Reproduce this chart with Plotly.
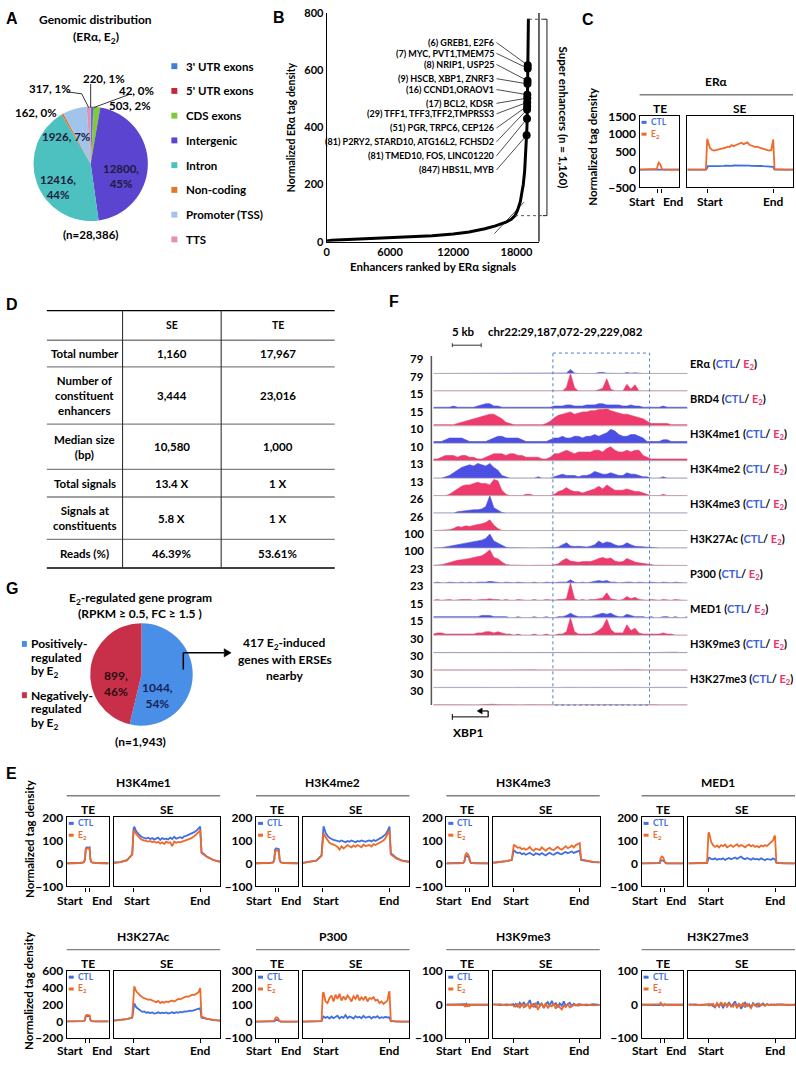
import plotly.graph_objects as go

W, H = 796, 1066
FONT = "Lato, 'Noto Sans', 'DejaVu Sans', sans-serif"
CTL_COLOR = "#3f6fe0"
E2_COLOR = "#ee6a2c"
TRK_CTL = "#4b4fe3"
TRK_E2 = "#ee3a6c"

# ================= Panel A data =================
A_LABELS = ["3' UTR exons", "5' UTR exons", "CDS exons", "Intergenic", "Intron",
            "Non-coding", "Promoter (TSS)", "TTS"]
A_VALUES = [220, 42, 503, 12800, 12416, 162, 1926, 317]
A_PCT = [1, 0, 2, 45, 44, 0, 7, 1]
A_COLORS = ["#3f7fd9", "#c3283c", "#80c93a", "#5a44d0", "#4dc0c0", "#e0782b", "#a0c4ec", "#e490b4"]

# ================= Panel B data =================
B_RANK = [0, 500, 2000, 4000, 6000, 8000, 10000, 12000, 13500, 15000, 16000, 17000, 17500,
          17860, 18100, 18360, 18500, 18640, 18770, 18870, 18940, 18990, 19030, 19060, 19100, 19127]
B_SIGNAL = [2, 5, 8, 11, 14, 17, 21, 27, 34, 45, 55, 68, 78,
            91, 110, 140, 165, 200, 245, 300, 350, 400, 480, 600, 700, 780]
B_DOT_RANK = [19065, 19062, 19045, 19040, 19025, 19020, 19013, 19008, 19003, 18995, 18960]
B_DOT_SIGNAL = [617, 606, 563, 552, 514, 502, 487, 474, 462, 430, 372]
B_GENES = ["(6) GREB1, E2F6", "(7) MYC, PVT1,TMEM75", "(8) NRIP1, USP25", "(9) HSCB, XBP1, ZNRF3",
           "(16) CCND1,ORAOV1", "(17) BCL2, KDSR", "(29) TFF1, TFF3,TFF2,TMPRSS3",
           "(51) PGR, TRPC6, CEP126", "(81) P2RY2, STARD10, ATG16L2, FCHSD2",
           "(81) TMED10, FOS, LINC01220", "(847) HBS1L, MYB"]
B_TANGENT_X = [15900, 18700]
B_TANGENT_Y = [28, 138]
B_CUTOFF = 91
B_MAXSIG = 778

# ================= Profiles (C, E) =================
TE_X = [-5, -3, -1.5, -0.5, -0.2, 0, 0.3, 0.7, 1.0, 1.2, 1.5, 2.5, 4, 6]
SE_X = [-0.30, -0.20, -0.10, -0.02, 0.00, 0.01,
        0.04, 0.07, 0.10, 0.13, 0.16, 0.19, 0.22, 0.25,
        0.28, 0.31, 0.34, 0.37, 0.40, 0.43, 0.46, 0.49,
        0.52, 0.55, 0.58, 0.61, 0.64, 0.67, 0.70, 0.73,
        0.76, 0.79, 0.82, 0.85, 0.88, 0.91, 0.94, 0.97,
        0.99, 1.00, 1.02, 1.10, 1.20, 1.30]

ERA_TE_CTL = [0, 0, 0, 0, 2, 10, 20, 15, 8, 2, 0, 0, 0, 0]
ERA_TE_E2 = [0, 0, 0, 2, 20, 120, 200, 150, 60, 10, 2, 0, 0, 0]
ERA_SE_CTL = [0, 0, 0, 2, 45, 100,
              100, 95, 105, 98, 102, 110, 104, 108, 112, 106, 115, 110, 118, 120, 116, 125,
              122, 118, 120, 114, 116, 110, 112, 105, 108, 100, 104, 98, 95, 100, 92, 96,
              100, 80, 5, 0, 0, 0]
ERA_SE_E2 = [0, 0, 0, 5, 870, 800,
             620, 560, 540, 550, 560, 575, 600, 590, 620, 650, 640, 690, 660, 690, 720, 740,
             760, 720, 750, 770, 700, 690, 660, 640, 650, 620, 600, 590, 570, 560, 540, 550,
             700, 850, 15, 0, 0, 0]

H3K4ME1_TE_CTL = [1, 1, 2, 5, 20, 65, 70, 68, 70, 20, 5, 2, 1, 1]
H3K4ME1_TE_E2 = [1, 1, 2, 5, 18, 62, 66, 64, 66, 18, 5, 2, 1, 1]
H3K4ME1_SE_CTL = [3, 6, 14, 40, 150, 160,
                  140, 128, 120, 114, 112, 108, 112, 106, 110, 104, 108, 112, 102, 110, 106, 108,
                  104, 112, 106, 116, 108, 112, 114, 110, 118, 120, 124, 126, 132, 136, 142, 150,
                  158, 160, 50, 30, 15, 8]
H3K4ME1_SE_E2 = [3, 6, 13, 38, 140, 145,
                 128, 116, 108, 102, 100, 98, 95, 98, 92, 96, 90, 94, 86, 92, 85, 95,
                 90, 92, 75, 95, 90, 94, 92, 95, 98, 100, 102, 108, 112, 118, 126, 135,
                 140, 145, 45, 28, 14, 6]

H3K4ME2_TE_CTL = [1, 1, 2, 5, 18, 60, 66, 64, 62, 18, 5, 2, 1, 1]
H3K4ME2_TE_E2 = [1, 1, 2, 4, 15, 52, 57, 55, 54, 15, 4, 2, 1, 1]
H3K4ME2_SE_CTL = [3, 6, 12, 35, 150, 162,
                  135, 120, 112, 105, 102, 100, 98, 95, 100, 96, 92, 98, 94, 100, 96, 92,
                  98, 95, 100, 96, 94, 98, 100, 96, 102, 98, 105, 108, 112, 118, 126, 140,
                  155, 160, 45, 25, 12, 8]
H3K4ME2_SE_E2 = [3, 6, 12, 32, 125, 132,
                 115, 100, 90, 85, 82, 78, 72, 60, 75, 65, 72, 80, 75, 70, 78, 72,
                 80, 75, 70, 82, 76, 78, 80, 74, 84, 80, 85, 90, 95, 100, 110, 125,
                 140, 145, 40, 22, 10, 6]

H3K4ME3_TE_CTL = [0, 0, 1, 3, 10, 28, 32, 30, 25, 8, 2, 1, 0, 0]
H3K4ME3_TE_E2 = [0, 0, 1, 4, 14, 38, 45, 40, 30, 10, 3, 1, 0, 0]
H3K4ME3_SE_CTL = [3, 6, 10, 15, 55, 58,
                  50, 45, 48, 40, 44, 38, 42, 46, 40, 36, 44, 42, 38, 45, 40, 35,
                  42, 46, 40, 38, 44, 48, 42, 40, 46, 50, 44, 48, 52, 46, 50, 54,
                  55, 56, 15, 10, 6, 5]
H3K4ME3_SE_E2 = [3, 6, 10, 16, 78, 82,
                 75, 68, 70, 62, 66, 60, 64, 72, 60, 55, 65, 62, 58, 70, 62, 55,
                 64, 68, 60, 58, 66, 72, 64, 60, 68, 75, 66, 70, 78, 70, 80, 84,
                 86, 88, 18, 12, 7, 5]

MED1_TE_CTL = [0, 0, 0, 0, 2, 10, 14, 12, 6, 1, 0, 0, 0, 0]
MED1_TE_E2 = [0, 0, 0, 1, 5, 22, 30, 26, 12, 3, 0, 0, 0, 0]
MED1_SE_CTL = [0, 0, 0, 2, 22, 25,
               20, 18, 22, 16, 20, 18, 22, 15, 20, 24, 18, 22, 26, 20, 24, 30,
               22, 18, 24, 20, 16, 22, 18, 20, 16, 22, 18, 14, 20, 18, 16, 22,
               20, 18, 2, 0, 0, 0]
MED1_SE_E2 = [0, 0, 0, 3, 130, 135,
              95, 80, 72, 78, 70, 80, 75, 82, 70, 76, 80, 72, 78, 84, 74, 80,
              76, 70, 78, 82, 74, 80, 72, 76, 70, 78, 74, 80, 76, 84, 90, 100,
              118, 120, 5, 0, 0, 0]

H3K27AC_TE_CTL = [1, 1, 2, 5, 20, 65, 68, 66, 65, 20, 5, 2, 1, 1]
H3K27AC_TE_E2 = [1, 1, 2, 5, 22, 72, 80, 75, 74, 22, 5, 2, 1, 1]
H3K27AC_SE_CTL = [12, 20, 30, 45, 200, 215,
                  170, 150, 130, 115, 120, 105, 110, 100, 108, 95, 100, 110, 98, 105, 100, 108,
                  95, 102, 110, 100, 112, 105, 115, 110, 120, 118, 125, 130, 128, 135, 140, 145,
                  150, 160, 45, 30, 18, 10]
H3K27AC_SE_E2 = [12, 20, 30, 50, 400, 420,
                 360, 330, 310, 290, 280, 270, 260, 265, 250, 240, 230, 245, 220, 235, 225, 240,
                 230, 245, 250, 240, 260, 270, 265, 280, 290, 300, 295, 310, 320, 315, 330, 345,
                 380, 400, 60, 35, 20, 12]

P300_TE_CTL = [0, 0, 0, 0, 1, 6, 10, 8, 4, 1, 0, 0, 0, 0]
P300_TE_E2 = [0, 0, 0, 1, 4, 18, 25, 22, 10, 2, 0, 0, 0, 0]
P300_SE_CTL = [0, 0, 0, 2, 25, 30,
               22, 28, 18, 30, 20, 26, 35, 18, 28, 22, 38, 20, 30, 25, 18, 32,
               24, 28, 20, 34, 22, 26, 30, 18, 28, 24, 32, 20, 26, 22, 28, 24,
               22, 25, 2, 0, 0, 0]
P300_SE_E2 = [0, 0, 0, 3, 170, 175,
              120, 110, 140, 155, 120, 160, 135, 165, 125, 150, 130, 155, 140, 120, 150, 135,
              160, 125, 145, 130, 150, 120, 140, 135, 145, 125, 130, 110, 120, 105, 115, 125,
              170, 180, 5, 0, 0, 0]

H3K9ME3_TE_CTL = [0, 0, 1, 0, 2, -2, 3, -3, 1, 0, 0, 1, 0, 0]
H3K9ME3_TE_E2 = [0, 0, 0, -1, -4, 3, -6, 2, -5, -1, 0, 0, 0, 0]
H3K9ME3_SE_CTL = [2, -1, 1, 0, 2, -3,
                  3, -5, 6, -2, 8, -4, 2, 14, -6, 4, -8, 10, -3, 5, -10, 2,
                  8, -4, 12, -2, 6, -8, 4, -3, 10, -5, 2, 6, -4, 3, -2, 1,
                  2, -1, 1, -2, 2, 0]
H3K9ME3_SE_E2 = [0, 2, -2, 1, -2, -4,
                 -6, 2, -10, 4, -8, -3, 5, -12, 2, -6, 6, -15, -4, 3, -8, 6,
                 -10, -2, -5, 4, -12, 2, -8, -14, -3, -6, 2, -8, -4, -2, 1, -3,
                 -2, 1, -1, 1, -2, 0]

H3K27ME3_TE_CTL = [0, 0, 0, 1, -1, 2, 1, -2, 1, 0, 0, 0, 0, 0]
H3K27ME3_TE_E2 = [0, 0, 1, 0, 2, 6, 3, -2, 2, 1, 0, 0, 0, 0]
H3K27ME3_SE_CTL = [0, 1, -1, 0, 1, -2,
                   2, -4, -8, 3, -6, 6, -10, 4, -3, 8, -5, 2, 10, -6, 4, -12,
                   -3, 6, -4, 2, -8, 5, -2, 3, -5, 1, 4, -2, 2, -1, 1, 0,
                   1, 0, 0, 1, -1, 0]
H3K27ME3_SE_E2 = [1, -1, 0, 1, -1, 2,
                  -2, 3, -6, 5, -4, 8, -2, 6, -8, 4, -3, -6, 5, -10, 2, -4,
                  6, -8, 3, -5, -10, 2, -3, -6, 4, -2, 1, -3, 2, -1, 0, 1,
                  0, -1, 1, 0, -1, 0]

# ================= Panel D data =================
D_HEADER = ["", "SE", "TE"]
D_ROWS = ["Total number", "Number of<br>constituent<br>enhancers", "Median size<br>(bp)",
          "Total signals", "Signals at<br>constituents", "Reads (%)"]
D_SE = ["1,160", "3,444", "10,580", "13.4 X", "5.8 X", "46.39%"]
D_TE = ["17,967", "23,016", "1,000", "1 X", "1 X", "53.61%"]

# ================= Panel F data (64 bins across chr22:29,187,072-29,229,082) =================
F_MARKS = ["ERα", "BRD4", "H3K4me1", "H3K4me2", "H3K4me3", "H3K27Ac", "P300", "MED1", "H3K9me3", "H3K27me3"]
F_MAX = [79, 15, 10, 13, 26, 100, 23, 15, 30, 30]
ERA_CTL_T = [0,0,0,0,0,0,0,0, 0,0,0,0,0,0,0,0, 0,0,0,0,0,0,0,0, 0,0,0,0,0,0,0,0,
             0,2,18,2,0,0,0,0, 0,4,5,1,0,0,0,0, 4,1,3,0,0,0,0,0, 0,0,0,0,0,0,0,0]
ERA_E2_T = [0,0,0,0,0,0,0,0, 0,0,0,0,0,0,0,0, 0,0,0,0,0,0,0,0, 0,0,0,0,0,0,0,0,
            0,16,79,14,0,0,0,0, 0,5,12,55,8,0,0,0, 30,8,28,0,0,0,0,0, 0,0,0,0,0,0,0,0]
BRD4_CTL_T = [1,1,1,1,1,2,1,1, 1,1,1,2,3,4,4,2, 2,1,1,1,1,1,1,1, 1,1,1,1,1,1,2,2,
              2,3,3,2,2,2,3,3, 3,4,4,3,3,3,3,2, 2,3,2,2,1,1,1,1, 1,2,1,1,1,1,1,1]
BRD4_E2_T = [1,1,1,1,1,1,2,3, 4,5,6,7,8,9,10,10, 8,6,3,2,1,1,1,1, 1,1,1,1,2,4,7,9,
             10,11,12,10,11,12,12,13, 13,14,14,15,13,12,11,10, 10,9,8,7,6,4,2,2, 2,2,2,1,1,1,1,1]
ME1_CTL_T = [1,1,1,2,3,3,3,3, 2,1,1,1,1,1,2,3, 4,4,3,3,3,3,2,1, 1,1,1,1,1,2,3,3,
             4,3,3,4,4,3,4,4, 5,4,5,6,8,7,5,4, 4,5,5,4,3,1,1,1, 1,2,2,1,1,1,1,1]
ME1_E2_T = [1,1,2,3,3,3,2,3, 3,2,2,1,1,2,3,4, 4,4,3,4,4,3,3,2, 2,2,2,1,1,2,4,4,
            5,6,5,4,5,5,5,5, 6,6,5,7,8,6,5,5, 6,5,6,6,3,2,1,1, 1,1,1,1,1,1,1,1]
ME2_CTL_T = [0,0,0,1,2,4,6,8, 9,10,9,11,10,9,11,8, 6,2,1,0,0,0,0,0, 0,0,1,0,0,0,1,2,
             3,2,2,2,1,2,2,3, 5,4,3,3,4,3,2,2, 4,3,3,2,1,1,0,0, 0,1,0,0,0,0,0,0]
ME2_E2_T = [0,0,0,0,1,3,5,7, 8,8,9,10,9,9,8,12, 11,4,1,0,0,0,0,1, 1,0,0,0,0,0,1,3,
            4,6,4,3,3,2,3,4, 5,7,5,8,6,4,4,4, 5,4,3,3,2,1,0,0, 0,1,0,0,0,0,0,0]
ME3_CTL_T = [0,0,0,0,0,0,2,3, 4,4,5,5,6,10,26,8, 4,1,0,0,0,0,0,0, 0,0,0,0,0,0,0,0,
             0,0,0,0,0,0,0,0, 0,0,0,1,0,0,0,0, 0,0,0,0,0,0,0,0, 0,0,0,0,0,0,0,0]
ME3_E2_T = [0,0,0,0,1,3,6,5, 7,6,8,9,10,12,16,8, 3,0,0,0,0,0,0,0, 0,0,0,0,0,0,0,0,
            0,0,0,0,0,0,0,0, 0,0,0,1,0,0,0,0, 0,0,0,0,0,0,0,0, 0,0,0,0,0,0,0,0]
K27AC_CTL_T = [0,0,2,6,10,14,18,22, 25,30,35,40,45,55,80,40, 28,12,4,1,0,0,0,0, 0,0,0,0,0,0,2,6,
               20,30,12,8,10,8,6,10, 18,40,26,35,30,18,12,15, 30,18,10,8,6,3,1,0, 0,0,1,0,0,0,0,0]
K27AC_E2_T = [1,2,4,10,18,25,30,32, 38,40,45,50,55,70,90,45, 38,20,6,2,1,0,0,0, 0,1,0,0,0,1,4,10,
              28,40,25,20,18,22,20,22, 30,40,45,38,42,25,20,22, 40,30,20,15,12,6,2,1, 1,0,2,1,0,0,0,0]
P300_CTL_T = [0,1,0,0,1,0,0,1, 0,1,0,1,1,1,2,1, 1,0,1,0,0,1,0,0, 0,1,0,0,1,0,0,1,
              1,1,4,1,0,1,0,1, 1,3,2,3,1,1,0,1, 1,1,0,1,0,0,1,0, 0,1,0,0,1,0,0,0]
P300_E2_T = [0,1,0,1,1,0,1,1, 1,1,0,1,1,1,2,1, 1,0,1,0,0,1,0,0, 0,1,0,0,1,0,0,1,
             1,2,23,2,0,1,0,1, 1,2,3,10,2,1,0,1, 5,2,4,1,0,0,1,0, 0,1,0,0,1,0,0,0]
MED1_CTL_T = [1,1,1,1,1,1,1,1, 1,1,1,1,2,2,2,1, 1,1,1,0,0,1,0,0, 0,1,0,0,1,0,0,1,
              1,2,4,2,1,1,1,1, 2,3,4,3,4,2,1,1, 3,2,1,1,1,0,1,0, 0,1,1,0,1,0,0,1]
MED1_E2_T = [1,2,2,1,1,1,1,1, 1,1,1,2,2,3,3,2, 3,2,1,1,0,1,0,0, 0,1,0,0,1,0,0,1,
             1,3,15,3,1,1,1,1, 2,4,7,14,5,2,2,2, 9,4,6,2,1,1,1,1, 1,2,1,1,0,0,0,0]
K9_CTL_T = [0.3,0.5,0.3,0.4,0.3,0.5,0.4,0.3, 0.4,0.3,0.5,0.3,0.4,0.3,0.5,0.4,
            0.3,0.4,0.3,0.5,0.3,0.4,0.3,0.3, 0.5,0.3,0.4,0.3,0.3,0.5,0.4,0.3,
            0.4,0.3,0.5,0.4,0.3,0.3,0.4,0.5, 0.3,0.4,0.3,0.5,0.4,0.3,0.3,0.4,
            0.5,0.3,0.4,0.3,0.3,0.4,0.3,0.5, 0.3,0.4,0.3,0.5,0.8,0.4,0.3,0.4]
K9_E2_T = [0.4,0.3,0.3,0.5,0.3,0.4,0.3,0.3, 0.5,0.3,0.4,0.3,0.3,0.4,0.5,0.3,
           0.4,0.3,0.3,0.5,0.4,0.3,0.3,0.4, 0.3,0.5,0.3,0.4,0.3,0.3,0.4,0.5,
           0.3,0.4,0.3,0.3,0.5,0.4,0.3,0.3, 0.4,0.3,0.5,0.3,0.4,0.3,0.3,0.5,
           0.3,0.4,0.3,0.5,0.3,0.3,0.4,0.3, 0.5,0.3,0.4,0.3,0.3,0.4,0.3,0.3]
K27_CTL_T = [0.3,0.4,0.3,0.5,0.3,0.3,0.4,0.3, 0.5,0.3,0.4,0.3,0.3,0.4,0.3,0.5,
             0.3,0.4,0.5,0.3,0.3,0.4,0.3,0.3, 0.4,0.3,0.5,0.3,0.4,0.3,0.3,0.4,
             0.3,0.5,0.3,0.4,0.3,0.3,0.5,0.3, 0.4,0.3,0.3,0.4,0.5,0.3,0.4,0.3,
             0.3,0.5,0.3,0.4,0.3,0.3,0.4,0.3, 0.4,0.3,0.5,0.3,0.3,0.4,0.3,0.4]
K27_E2_T = [0.4,0.3,0.5,0.3,0.3,0.4,0.3,0.4, 0.3,0.5,0.4,0.3,0.6,1.2,1.6,1.4,
            0.5,0.3,0.4,0.3,0.3,0.5,0.3,0.4, 0.3,0.3,0.4,0.5,0.3,0.4,0.3,0.3,
            0.5,0.3,0.4,0.3,0.3,0.4,0.5,0.3, 0.3,0.4,0.3,0.5,0.3,0.4,0.3,0.3,
            0.4,0.3,0.5,0.3,0.4,0.3,0.3,0.5, 0.3,0.4,0.3,0.3,0.5,0.3,0.4,0.3]
F_TRACKS = [ERA_CTL_T, ERA_E2_T, BRD4_CTL_T, BRD4_E2_T, ME1_CTL_T, ME1_E2_T, ME2_CTL_T, ME2_E2_T,
            ME3_CTL_T, ME3_E2_T, K27AC_CTL_T, K27AC_E2_T, P300_CTL_T, P300_E2_T, MED1_CTL_T, MED1_E2_T,
            K9_CTL_T, K9_E2_T, K27_CTL_T, K27_E2_T]
F_BINS = list(range(64))

# ================= Panel G data =================
G_LABELS = ["Positively-regulated by E2", "Negatively-regulated by E2"]
G_VALUES = [1044, 899]
G_PCT = [54, 46]
G_COLORS = ["#4a8fe7", "#c8304a"]
G_INDUCED = 417

for arr in [ERA_SE_CTL, ERA_SE_E2, H3K4ME1_SE_CTL, H3K4ME1_SE_E2, H3K4ME2_SE_CTL, H3K4ME2_SE_E2,
            H3K4ME3_SE_CTL, H3K4ME3_SE_E2, MED1_SE_CTL, MED1_SE_E2, H3K27AC_SE_CTL, H3K27AC_SE_E2,
            P300_SE_CTL, P300_SE_E2, H3K9ME3_SE_CTL, H3K9ME3_SE_E2, H3K27ME3_SE_CTL, H3K27ME3_SE_E2]:
    assert len(arr) == len(SE_X), len(arr)
for arr in F_TRACKS:
    assert len(arr) == 64, len(arr)


# ================= helpers =================
def PX(x):
    return x / W


def PY(y):
    return 1 - y / H


fig = go.Figure()
lay = dict(width=W, height=H, margin=dict(l=0, r=0, t=0, b=0), paper_bgcolor="white",
           plot_bgcolor="rgba(0,0,0,0)", showlegend=False,
           font=dict(family=FONT, size=11, color="black", weight="bold"))
shapes = []
anns = []


def text(x, y, s, size=11, color="black", xanchor="center", yanchor="middle", angle=0, family=None):
    f = dict(size=size, color=color, weight="bold")
    if family:
        f["family"] = family
    anns.append(dict(x=PX(x), y=PY(y), xref="paper", yref="paper", text=s, showarrow=False,
                     font=f, xanchor=xanchor, yanchor=yanchor, textangle=angle))


def line(x0, y0, x1, y1, color="black", width=1.0, dash="solid"):
    shapes.append(dict(type="line", xref="paper", yref="paper", x0=PX(x0), y0=PY(y0), x1=PX(x1), y1=PY(y1),
                       line=dict(color=color, width=width, dash=dash)))


def rect(x0, y0, x1, y1, fill, linecolor=None, width=0, dash="solid"):
    shapes.append(dict(type="rect", xref="paper", yref="paper", x0=PX(x0), y0=PY(y0), x1=PX(x1), y1=PY(y1),
                       fillcolor=fill, line=dict(color=linecolor or fill, width=width, dash=dash)))


def arrow(x0, y0, x1, y1, width=1.2, head=5):
    # horizontal line from (x0,y0) to (x1,y1) with a filled triangular head at (x1,y1)
    d = head if x1 > x0 else -head
    line(x0, y0, x1 - d, y1, width=width)
    path = (f"M {PX(x1)} {PY(y1)} L {PX(x1 - d)} {PY(y1 - head * 0.6)} "
            f"L {PX(x1 - d)} {PY(y1 + head * 0.6)} Z")
    shapes.append(dict(type="path", xref="paper", yref="paper", path=path, fillcolor="black",
                       line=dict(color="black", width=0.5)))


naxes = [0]


def add_axes(x0, x1, y0, y1, xa, ya):
    naxes[0] += 1
    n = naxes[0]
    s = "" if n == 1 else str(n)
    lay["xaxis" + s] = dict(domain=[PX(x0), PX(x1)], anchor="y" + s, **xa)
    lay["yaxis" + s] = dict(domain=[PY(y1), PY(y0)], anchor="x" + s, **ya)
    return "x" + s, "y" + s


LETTER_FONT = "'Liberation Sans', Arial, sans-serif"
for L, x, y in [("A", 9, 11), ("B", 277, 10), ("C", 587, 12), ("D", 9, 301), ("E", 9, 776), ("F", 392, 298), ("G", 9, 589)]:
    text(x, y, L, size=16, family=LETTER_FONT)

# ================= Panel A =================
text(93, 12, "Genomic distribution", size=12)
text(93, 30, "(ERα, E<sub>2</sub>)", size=12)
fig.add_trace(go.Pie(labels=A_LABELS, values=A_VALUES, sort=False, direction="clockwise", rotation=0,
                     marker=dict(colors=A_COLORS, line=dict(width=0)), textinfo="none",
                     domain=dict(x=[PX(30), PX(146)], y=[PY(216), PY(100)]), hoverinfo="skip"))
A_TEXT_POS = {3: (118, 170, True), 4: (55, 182, True), 6: (63, 130, False),
              0: (101, 71, False), 1: (134, 84, False), 2: (127, 99, False), 7: (47, 82, False), 5: (33, 106, False)}
for i, (x, y, two) in A_TEXT_POS.items():
    sep = ",<br>" if two else ", "
    col = "#1c1c3c" if i in (3, 4, 6) else "black"
    text(x, y, f"{A_VALUES[i]}{sep}{A_PCT[i]}%", size=11.5, color=col)
line(88, 77, 88, 101, width=0.8)
line(126, 88, 91, 101, width=0.8)
line(64, 85, 79, 87, width=0.8)
line(79, 87, 86, 101, width=0.8)
text(88, 230, "(n=28,386)", size=11.5)
for i, lab in enumerate(A_LABELS):
    y = 59 + i * 25.1
    rect(169, y - 3, 175, y + 3, A_COLORS[i])
    text(182, y, lab, size=11.5, xanchor="left")

# ================= Panel B =================
bx, by = add_axes(325, 538, 5, 237,
                  dict(range=[0, 20130], tickvals=[0, 6000, 12000, 18000], tickformat="d", showline=True,
                       linecolor="black", linewidth=1.2, showgrid=False, zeroline=False, ticks="",
                       tickfont=dict(size=11)),
                  dict(range=[0, 800], tick0=0, dtick=200, showline=True, linecolor="black", linewidth=1.2,
                       showgrid=False, zeroline=False, ticks="", tickfont=dict(size=11)))
fig.add_trace(go.Scatter(x=B_TANGENT_X, y=B_TANGENT_Y, xaxis=bx, yaxis=by, mode="lines",
                         line=dict(color="black", width=0.7), hoverinfo="skip"))
fig.add_trace(go.Scatter(x=B_RANK, y=B_SIGNAL, xaxis=bx, yaxis=by, mode="lines",
                         line=dict(color="black", width=3), hoverinfo="skip"))
fig.add_trace(go.Scatter(x=B_DOT_RANK, y=B_DOT_SIGNAL, xaxis=bx, yaxis=by, mode="markers",
                         marker=dict(color="black", size=8), hoverinfo="skip"))
shapes.append(dict(type="line", xref="paper", yref=by, x0=PX(538), x1=PX(538), y0=0, y1=800,
                   line=dict(color="black", width=1.2)))
shapes.append(dict(type="line", xref="paper", yref=by, x0=PX(514), x1=PX(542), y0=B_CUTOFF, y1=B_CUTOFF,
                   line=dict(color="#444", width=0.9, dash="dot")))
shapes.append(dict(type="line", xref="paper", yref=by, x0=PX(528), x1=PX(542), y0=B_MAXSIG, y1=B_MAXSIG,
                   line=dict(color="#444", width=0.9, dash="dot")))
shapes.append(dict(type="line", xref="paper", yref=by, x0=PX(546), x1=PX(546), y0=B_CUTOFF, y1=B_MAXSIG,
                   line=dict(color="black", width=0.9)))
for yv in (B_CUTOFF, B_MAXSIG):
    shapes.append(dict(type="line", xref="paper", yref=by, x0=PX(542), x1=PX(546), y0=yv, y1=yv,
                       line=dict(color="black", width=0.9)))
text(563, 111, "Super enhancers (n = 1,160)", size=11.5, angle=90)
text(289, 121, "Normalized ERα tag density", size=10.5, angle=-90)
text(432, 262, "Enhancers ranked by ERα signals", size=11.5)
B_LABEL_PY = [35, 46, 57.3, 71.7, 82.7, 96.7, 107.3, 121.7, 135.7, 150, 164.3]
for g, dx, dy, lp in zip(B_GENES, B_DOT_RANK, B_DOT_SIGNAL, B_LABEL_PY):
    anns.append(dict(x=dx, y=dy, xref=bx, yref=by, ax=16100, ay=(237 - lp) * 800 / 232, axref=bx, ayref=by,
                     text=g, showarrow=True, arrowhead=0, arrowwidth=0.7, arrowcolor="black",
                     xanchor="right", yanchor="middle", font=dict(size=9, weight="bold"), standoff=3))

# ================= Profile panels (C, E) =================
TE_RANGE = [-5, 6]
SE_RANGE = [-0.3, 1.3]


def profile_panel(te_left, top, bottom, title, yr, dt, te_ctl, te_e2, se_ctl, se_e2,
                  te_w=42, gap=5, se_w=107, xlab_dy=14):
    te_right = te_left + te_w
    se_left = te_right + gap
    se_right = se_left + se_w
    frame = dict(showline=True, mirror=True, linecolor="black", linewidth=1.3, showgrid=False, zeroline=False)
    xa = dict(tickvals=[0, 1], ticks="outside", ticklen=4, tickwidth=1, tickcolor="black",
              showticklabels=False, **frame)
    ya = dict(range=yr, tick0=0, dtick=dt, ticks="", **frame)
    xt, yt = add_axes(te_left, te_right, top, bottom, dict(range=TE_RANGE, **xa),
                      dict(showticklabels=True, tickfont=dict(size=12), **ya))
    xs, ys = add_axes(se_left, se_right, top, bottom, dict(range=SE_RANGE, **xa),
                      dict(showticklabels=False, **ya))
    for xr, yr_, xv, c, e in [(xt, yt, TE_X, te_ctl, te_e2), (xs, ys, SE_X, se_ctl, se_e2)]:
        fig.add_trace(go.Scatter(x=xv, y=c, xaxis=xr, yaxis=yr_, mode="lines",
                                 line=dict(color=CTL_COLOR, width=1.8), hoverinfo="skip"))
        fig.add_trace(go.Scatter(x=xv, y=e, xaxis=xr, yaxis=yr_, mode="lines",
                                 line=dict(color=E2_COLOR, width=1.8), hoverinfo="skip"))
    text((te_left + se_right) / 2, top - 35, title, size=12)
    line(te_left, top - 22, se_right, top - 22, color="#808080", width=1.3)
    text((te_left + te_right) / 2, top - 8, "TE", size=12)
    text((se_left + se_right) / 2, top - 8, "SE", size=12)
    yl = PY(bottom + xlab_dy)
    for xr, xv, s, xanc, sh in [(xt, 0, "Start", "right", -1), (xt, 1, "End", "left", 0),
                                (xs, 0, "Start", "center", 3), (xs, 1, "End", "center", 0)]:
        anns.append(dict(xref=xr, x=xv, yref="paper", y=yl, text=s, showarrow=False, xanchor=xanc,
                         xshift=sh, yanchor="middle", font=dict(size=12, weight="bold")))
    line(te_left + 2, top + 6, te_left + 7, top + 6, color=CTL_COLOR, width=3)
    text(te_left + 9, top + 6, "CTL", size=8.5, color=CTL_COLOR, xanchor="left")
    line(te_left + 2, top + 18, te_left + 7, top + 18, color=E2_COLOR, width=3)
    text(te_left + 9, top + 18, "E<sub>2</sub>", size=8.5, color=E2_COLOR, xanchor="left")


# Panel C
profile_panel(639, 110, 182, "ERα", [-500, 1500], 500, ERA_TE_CTL, ERA_TE_E2, ERA_SE_CTL, ERA_SE_E2,
              te_w=40, gap=8, se_w=106)
text(591, 140, "Normalized tag density", size=11.5, angle=-90)

# Panel E
E_LEFTS = [64, 254, 445, 641]
row1 = [("H3K4me1", [-100, 200], 100, H3K4ME1_TE_CTL, H3K4ME1_TE_E2, H3K4ME1_SE_CTL, H3K4ME1_SE_E2),
        ("H3K4me2", [-100, 200], 100, H3K4ME2_TE_CTL, H3K4ME2_TE_E2, H3K4ME2_SE_CTL, H3K4ME2_SE_E2),
        ("H3K4me3", [-100, 200], 100, H3K4ME3_TE_CTL, H3K4ME3_TE_E2, H3K4ME3_SE_CTL, H3K4ME3_SE_E2),
        ("MED1", [-100, 200], 100, MED1_TE_CTL, MED1_TE_E2, MED1_SE_CTL, MED1_SE_E2)]
row2 = [("H3K27Ac", [-200, 600], 200, H3K27AC_TE_CTL, H3K27AC_TE_E2, H3K27AC_SE_CTL, H3K27AC_SE_E2),
        ("P300", [-100, 300], 100, P300_TE_CTL, P300_TE_E2, P300_SE_CTL, P300_SE_E2),
        ("H3K9me3", [-100, 100], 100, H3K9ME3_TE_CTL, H3K9ME3_TE_E2, H3K9ME3_SE_CTL, H3K9ME3_SE_E2),
        ("H3K27me3", [-100, 100], 100, H3K27ME3_TE_CTL, H3K27ME3_TE_E2, H3K27ME3_SE_CTL, H3K27ME3_SE_E2)]
for left, p in zip(E_LEFTS, row1):
    profile_panel(left, 821, 891, *p)
for left, p in zip(E_LEFTS, row2):
    profile_panel(left, 977, 1045, *p, xlab_dy=12)
text(26, 842, "Normalized tag density", size=11.5, angle=-90)
text(26, 996, "Normalized tag density", size=11.5, angle=-90)

# ================= Panel D (table) =================
D_LINES = [307, 337, 364, 422, 468, 496, 539, 568]
D_COLS = [44, 120, 219, 333]
for i, yv in enumerate(D_LINES):
    edge = i in (0, len(D_LINES) - 1)
    line(D_COLS[0], yv, D_COLS[-1], yv, color="black" if edge else "#808080", width=1.3)
for xv in D_COLS[1:3]:
    line(xv, D_LINES[0], xv, D_LINES[-1], color="#333", width=1.1)
col_c = [(D_COLS[0] + D_COLS[1]) / 2, (D_COLS[1] + D_COLS[2]) / 2, (D_COLS[2] + D_COLS[3]) / 2]
hy = (D_LINES[0] + D_LINES[1]) / 2
for cx, h in zip(col_c, D_HEADER):
    if h:
        text(cx, hy, h, size=10.5)
for r in range(len(D_ROWS)):
    cy = (D_LINES[r + 1] + D_LINES[r + 2]) / 2
    text(col_c[0], cy, D_ROWS[r], size=11.5)
    text(col_c[1], cy, D_SE[r], size=11.5)
    text(col_c[2], cy, D_TE[r], size=11.5)

# ================= Panel F (browser tracks) =================
F_LEFT, F_RIGHT, F_BOTTOM, F_STEP = 432, 687, 707, 17.7
for k, vals in enumerate(F_TRACKS):
    base = F_BOTTOM - (19 - k) * F_STEP
    top = base - F_STEP
    mx = F_MAX[k // 2]
    color = TRK_CTL if k % 2 == 0 else TRK_E2
    xr, yr_ = add_axes(F_LEFT, F_RIGHT, top, base,
                       dict(range=[0, 63], visible=False),
                       dict(range=[0, mx], visible=False))
    line(F_LEFT, base, F_RIGHT, base, color="#a8a8a8", width=0.8)
    fig.add_trace(go.Scatter(x=F_BINS, y=vals, xaxis=xr, yaxis=yr_, mode="lines", fill="tozeroy",
                             fillcolor=color, line=dict(color=color, width=0.6), hoverinfo="skip"))
    text(425, top + 3, str(mx), size=11.5, xanchor="right")
    if k % 2 == 0:
        m = F_MARKS[k // 2]
        text(688, top + 9, f"{m} (<span style='color:#3d5fd9'>CTL</span>/ <span style='color:#e8336e'>E<sub>2</sub></span>)",
             size=11, xanchor="left")
line(430, 353, 430, 707, color="#555", width=1.5)
rect(552, 350, 649, 707, "rgba(0,0,0,0)", linecolor="#4a7fd0", width=1, dash="dot")
text(462, 328, "5 kb", size=11.5)
text(565, 328, "chr22:29,187,072-29,229,082", size=11.5)
line(451, 342, 480, 342, color="#333", width=1)
line(451, 340, 451, 344, color="#333", width=1)
line(480, 340, 480, 344, color="#333", width=1)
line(451, 719, 487, 719, color="black", width=1)
line(451, 716, 451, 722, color="black", width=1)
line(487, 713, 487, 719, color="black", width=1.2)
arrow(487, 713, 476, 713, width=1.2, head=5)
text(467, 735, "XBP1", size=12)

# ================= Panel G =================
text(138, 599, "E<sub>2</sub>-regulated gene program", size=12)
text(138, 614, "(RPKM ≥ 0.5, FC ≥ 1.5 )", size=12)
fig.add_trace(go.Pie(labels=G_LABELS, values=G_VALUES, sort=False, direction="clockwise", rotation=0,
                     marker=dict(colors=G_COLORS, line=dict(width=0)), textinfo="none",
                     domain=dict(x=[PX(87), PX(191)], y=[PY(728), PY(624)]), hoverinfo="skip"))
text(155, 697, f"{G_VALUES[0]},<br>{G_PCT[0]}%", size=12, color="#14235a")
text(113, 685, f"{G_VALUES[1]},<br>{G_PCT[1]}%", size=12, color="#2a0a10")
text(138, 744, "(n=1,943)", size=12)
rect(19, 642, 24, 648, G_COLORS[0])
rect(19, 694, 24, 700, G_COLORS[1])
for y, s in [(645, "Positively-"), (659, "regulated"), (673, "by E<sub>2</sub>"),
             (697, "Negatively-"), (711, "regulated"), (726, "by E<sub>2</sub>")]:
    text(26, y, s, size=12, xanchor="left")
line(181, 654, 181, 671, color="black", width=1.5)
arrow(181, 654, 229, 654, width=1.5, head=7)
text(283, 645, f"{G_INDUCED} E<sub>2</sub>-induced", size=12)
text(283, 661, "genes with ERSEs", size=12)
text(283, 677, "nearby", size=12)

lay["shapes"] = shapes
lay["annotations"] = anns
fig.update_layout(**lay)
fig.write_html("out.html", config={"displayModeBar": False},
               post_script="document.body.style.margin='0';document.body.style.overflow='hidden';"
                           "document.documentElement.style.overflow='hidden';")
